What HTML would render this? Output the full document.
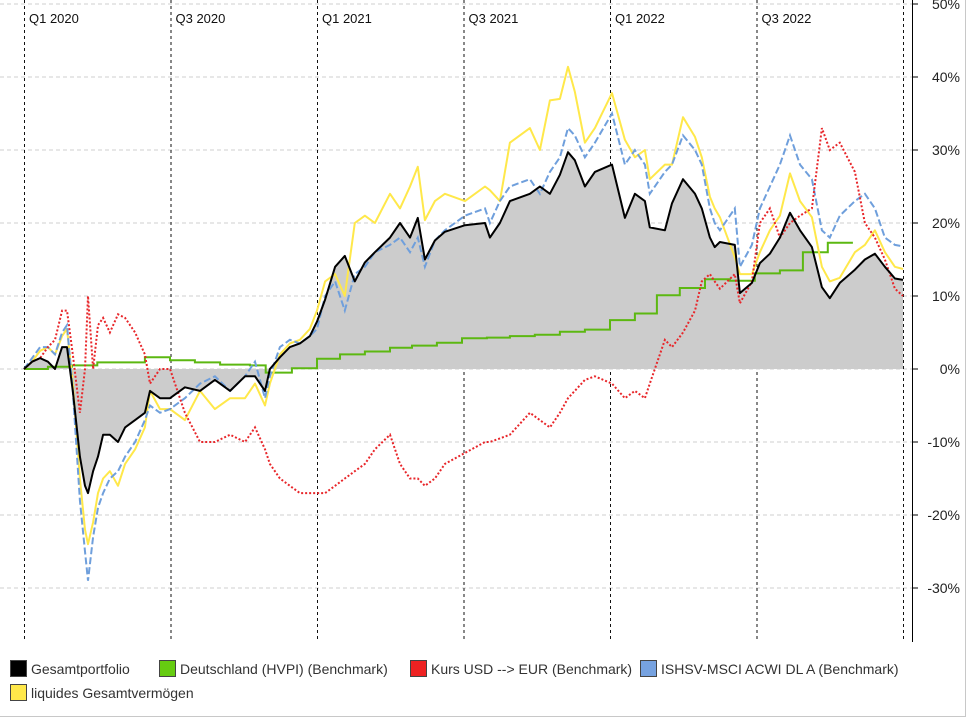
<!DOCTYPE html>
<html><head><meta charset="utf-8"><style>
html,body{margin:0;padding:0;background:#fff;}
svg{display:block;font-family:"Liberation Sans","DejaVu Sans",sans-serif;}
</style></head><body>
<svg id="chart" width="966" height="718" viewBox="0 0 966 718" xmlns="http://www.w3.org/2000/svg">
<rect x="0" y="0" width="966" height="718" fill="#fff"/>
<line x1="965.5" y1="0" x2="965.5" y2="717" stroke="#c8c8c8"/>
<line x1="0" y1="716.5" x2="966" y2="716.5" stroke="#c8c8c8"/>
<g id="grid"></g>
<g id="series"></g>
<g id="axis"></g>
<g id="legend"></g>
</svg>
<script>
// months since Jan 2020 (common grid)
const months=[0,.33,.66,.98,1.27,1.56,1.76,2.0,2.29,2.5,2.62,2.83,3.03,3.24,3.52,3.85,4.14,4.55,4.95,5.16,5.57,5.98,6.59,7.21,7.82,8.44,9.05,9.46,9.87,10.07,10.48,10.89,11.3,11.71,12.0,12.33,12.74,13.14,13.55,13.96,14.37,14.99,15.4,15.81,16.13,16.42,16.83,17.24,18.06,18.88,19.08,19.49,19.9,20.72,21.13,21.54,21.95,22.28,22.56,22.97,23.38,24.08,24.61,25.02,25.43,25.63,26.25,26.54,26.99,27.48,27.76,28.09,28.29,28.5,29.11,29.32,29.81,30.14,30.55,30.96,31.37,31.78,32.27,32.68,33.0,33.41,34.03,34.44,34.85,35.26,35.67,36];
const gesamt=[0,1,1.5,1,0,3,3,-3,-12,-16,-17,-14,-12,-9,-9,-10,-8,-7,-6,-3,-4,-4,-2.5,-3,-1.5,-3,-1,-1,-3,0,1.6,3,3.5,4.5,6.5,9.5,14,15.5,12,14.6,16,18,20,18,20.7,15,17.6,18.8,19.7,20,18,20,23,24,25,24,26.6,29.7,28.6,25,27,28,20.7,24,23,19.4,19,22.7,26,24,22,18,16.7,17.4,17,10.4,11.8,14.5,15.8,18,21.4,19,16.7,11.2,9.7,11.8,13.6,15,15.8,14,12.4,12.2];
const liquide=[0,1,2.5,3,2,4.5,5.5,-2,-15,-22,-24,-21,-17,-15,-14,-16,-13,-11,-8,-3,-5.5,-5.5,-7,-3,-5.5,-4,-4,-2,-5,-2,2,3.5,4,5.5,8,12,13,10,20,21,20,24,22,25,27.7,20.4,23,24,23,25,24.5,23,31,33,30,36.8,37,41.4,38,31,33,37.8,31.4,29,30,26,28,28,34.5,31.8,29,23.6,22,20.8,15.3,13,13,16,19,21,26.8,23,20.8,14,12,12.5,16,17,19,16,14,13.7];
const msci=[0,1.5,3,3,2,5,6,-3,-18,-25,-29,-23,-19,-17,-15,-14,-12,-10,-7,-5,-6,-5.5,-4,-2,-1,-3,-1,1,-4,-1,3,4,3.5,4.5,5.5,10,12,8,13,14,16,17,18,16,18,14,17.6,19,21,22,20,23,25,26,24,27,29,33,32,29,31,35,28,30,28,24,27,28,32,30,28,22,20,19,22,14,17,22,25,28,32,28,26,19,18,21,23,24,22,18,17,16.8];
const usd=[0,1,1.5,3,4,8,8,2,-6,0,10,0,6,7,5,7.5,7,5,2,-2,0,0,-6,-10,-10,-9,-10,-8,-11,-13,-15,-16,-17,-17,-17,-17,-16,-15,-14,-13,-11,-9,-13,-15,-15,-16,-15,-13,-11.5,-10,-10,-9.5,-9,-6,-7,-8,-6,-4,-3,-1.5,-1,-2,-4,-3,-4,-2,4,3,5,8,12,13,12,11,13,9,12,20,22,18,20,21,22,33,30,31,27,20,18,15,11,10];
// HVPI step function: start month of each step and its value
const hvpiStart=[0,.98,1.96,3.0,4.95,5.98,7.0,8.03,9.25,9.9,10.97,12.0,12.94,13.96,14.99,15.89,16.91,17.94,18.96,19.9,20.92,21.95,22.97,24.0,25.02,25.92,26.86,27.89,28.91,29.93,30.96,31.9,32.92];
const hvpiVal=[0,0.3,0.5,0.9,1.6,1.2,0.9,0.6,0.5,-0.5,0.1,1.4,2.0,2.4,2.9,3.2,3.6,4.2,4.3,4.5,4.7,5.1,5.4,6.7,7.6,10.1,11.1,12.3,12.1,13.1,13.5,16,17.3];
const hvpiEnd=33.95;
const yTicks=[50,40,30,20,10,0,-10,-20,-30];
const quarterLabels=["Q1 2020","Q3 2020","Q1 2021","Q3 2021","Q1 2022","Q3 2022",""];
const quarterMonths=[0,6,12,18,24,30,36];

const NS="http://www.w3.org/2000/svg";
const X=m=>24+m*(879/36);
const Y=v=>369-v*7.3;
function mk(tag,attrs,parent){const e=document.createElementNS(NS,tag);for(const k in attrs)e.setAttribute(k,attrs[k]);parent.appendChild(e);return e;}
const grid=document.getElementById('grid'),ser=document.getElementById('series'),ax=document.getElementById('axis'),leg=document.getElementById('legend');

yTicks.forEach(t=>{const l=mk('line',{x1:0,x2:912,y1:Y(t),y2:Y(t),stroke:'#cfcfcf','stroke-dasharray':'4,3'},grid);

});
quarterMonths.forEach((m,i)=>{const l=mk('line',{x1:X(m)+0.5,x2:X(m)+0.5,y1:0,y2:642,stroke:'#111','stroke-dasharray':'3,3','stroke-width':1},grid);


if(quarterLabels[i]){const t=mk('text',{x:X(m)+5,y:23,'font-size':13,fill:'#111'},grid);t.textContent=quarterLabels[i];

}});

function path(vals){return vals.map((v,i)=>(i?'L':'M')+X(months[i]).toFixed(1)+','+Y(v).toFixed(1)).join('');}
const n=months.length;
// fill
let d='M'+X(0)+','+Y(0)+gesamt.slice(0,n).map((v,i)=>'L'+X(months[i]).toFixed(1)+','+Y(v).toFixed(1)).join('')+'L'+X(months[Math.min(n,gesamt.length)-1])+','+Y(0)+'Z';
let f=mk('path',{d:d,fill:'#cccccc',stroke:'none'},ser);


// hvpi
let hd='';hvpiStart.forEach((s,i)=>{const e=i<hvpiStart.length-1?hvpiStart[i+1]:hvpiEnd;hd+=(i?'L':'M')+X(s).toFixed(1)+','+Y(hvpiVal[i]).toFixed(1)+'L'+X(e).toFixed(1)+','+Y(hvpiVal[i]).toFixed(1);});
let g=mk('path',{d:hd,fill:'none',stroke:'#5cb811','stroke-width':2},ser);


let y1=mk('path',{d:path(liquide),fill:'none',stroke:'#ffe84a','stroke-width':2,'stroke-linejoin':'round'},ser);


let b=mk('path',{d:path(msci),fill:'none',stroke:'#6f9fdc','stroke-width':2,'stroke-dasharray':'7,3'},ser);


let r=mk('path',{d:path(usd),fill:'none',stroke:'#e8262a','stroke-width':2,'stroke-dasharray':'2,2'},ser);


let k=mk('path',{d:path(gesamt),fill:'none',stroke:'#000','stroke-width':2,'stroke-linejoin':'round'},ser);



let al=mk('line',{x1:912.5,x2:912.5,y1:0,y2:642,stroke:'#000','stroke-width':1},ax);


yTicks.forEach(t=>{const tk=mk('line',{x1:913,x2:918,y1:Y(t),y2:Y(t),stroke:'#000'},ax);


const tx=mk('text',{x:966-6,y:Y(t)+5,'font-size':14,fill:'#222','text-anchor':'end'},ax);tx.textContent=t+'%';

});

const legNames=["Gesamtportfolio","Deutschland (HVPI) (Benchmark)","Kurs USD --> EUR (Benchmark)","ISHSV-MSCI ACWI DL A (Benchmark)","liquides Gesamtvermögen"];
const legColors=["#000000","#66cc11","#ee2222","#76a2e0","#ffe84a"];
const legPos=[[10,660],[159,660],[410,660],[640,660],[10,684]];
legNames.forEach((nm,i)=>{const gr=mk('g',{},leg);


mk('rect',{x:legPos[i][0]+0.5,y:legPos[i][1]+0.5,width:16,height:16,fill:legColors[i],stroke:'#444'},gr);
const t=mk('text',{x:legPos[i][0]+21,y:legPos[i][1]+14,'font-size':14,fill:'#333'},gr);t.textContent=nm;});
</script>
</body></html>
